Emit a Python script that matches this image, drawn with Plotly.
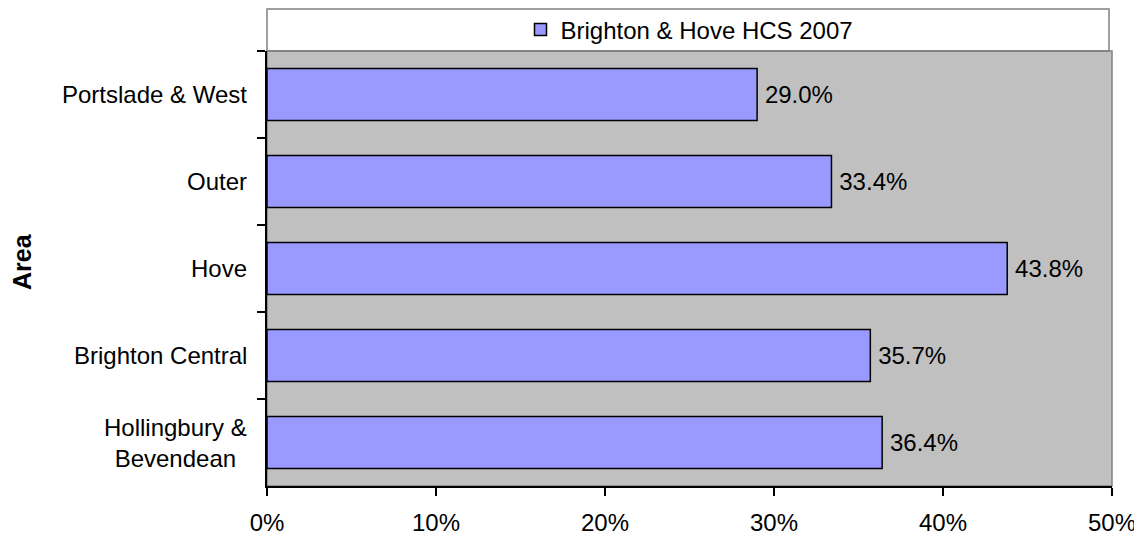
import plotly.graph_objects as go

categories = ["Portslade & West", "Outer", "Hove", "Brighton Central", "Hollingbury &<br>Bevendean"]
values = [29.0, 33.4, 43.8, 35.7, 36.4]
x_ticks = [0, 10, 20, 30, 40, 50]
x_tick_labels = ["0%", "10%", "20%", "30%", "40%", "50%"]
series_name = "Brighton & Hove HCS 2007"

FONT = "Liberation Sans, Arial, sans-serif"
FS = 24

fig = go.Figure()
fig.add_trace(go.Bar(
    x=values, y=categories, orientation="h", name=series_name,
    marker=dict(color="#9999FF", line=dict(color="#000000", width=1.5)),
    text=[f"\u2009{v:.1f}%" for v in values], textposition="outside",
    textfont=dict(family=FONT, size=FS, color="#000000"),
    cliponaxis=False,
))

# page body has an 8px margin, so the figure is drawn 8px in from the top-left
OFF = 8
W, H = 1142 - OFF, 538 - OFF
L, R, T, B = 267 - OFF, 1142 - 1112, 51 - OFF, 538 - 486
pw = W - L - R
ph = H - T - B

annotations = []
for c in categories:
    annotations.append(dict(
        x=0, xref="paper", y=c, yref="y", text=c, showarrow=False,
        xanchor="right", yanchor="middle", align="center", xshift=-18,
        font=dict(family=FONT, size=FS, color="#000000"),
    ))
annotations.append(dict(
    x=(22 - 267) / pw, xref="paper", y=1 - (262 - 51) / ph, yref="paper",
    text="<b>Area</b>", showarrow=False,
    textangle=-90, xanchor="center", yanchor="middle",
    font=dict(family=FONT, size=25, color="#000000"),
))

shapes = [
    dict(type="rect", xref="paper", yref="paper", x0=0, x1=(1109 - 267) / pw,
         y0=1, y1=1 + 42 / ph, line=dict(color="#808080", width=1.5), fillcolor="white", layer="below"),
    dict(type="rect", xref="paper", yref="paper", x0=0, x1=1, y0=0, y1=1,
         line=dict(color="#808080", width=1.5), fillcolor="rgba(0,0,0,0)", layer="below"),
]

fig.update_layout(
    width=W, height=H,
    margin=dict(l=L, r=R, t=T, b=B, autoexpand=False),
    paper_bgcolor="white", plot_bgcolor="#C0C0C0",
    bargap=0.4,
    font=dict(family=FONT, size=FS, color="#000000"),
    showlegend=True,
    legend=dict(orientation="h", x=0.5, xanchor="center", y=1 + 21 / ph, yanchor="middle",
                bgcolor="rgba(0,0,0,0)", font=dict(family=FONT, size=FS, color="#000000"),
                itemwidth=30),
    xaxis=dict(range=[0, 50], tickvals=x_ticks, ticktext=x_tick_labels, showgrid=False,
               zeroline=False, showline=True, linecolor="#000000", linewidth=1.5,
               ticks="outside", ticklen=8, tickcolor="#000000", tickwidth=1.5,
               tickfont=dict(family=FONT, size=FS, color="#000000"), ticklabelstandoff=6),
    yaxis=dict(autorange="reversed", showticklabels=False, showgrid=False, zeroline=False,
               showline=True, linecolor="#000000", linewidth=1.5,
               ticks="outside", ticklen=8, tickcolor="#000000", tickwidth=1.5,
               tickson="boundaries"),
    annotations=annotations, shapes=shapes,
)

fig.write_html("out.html")
